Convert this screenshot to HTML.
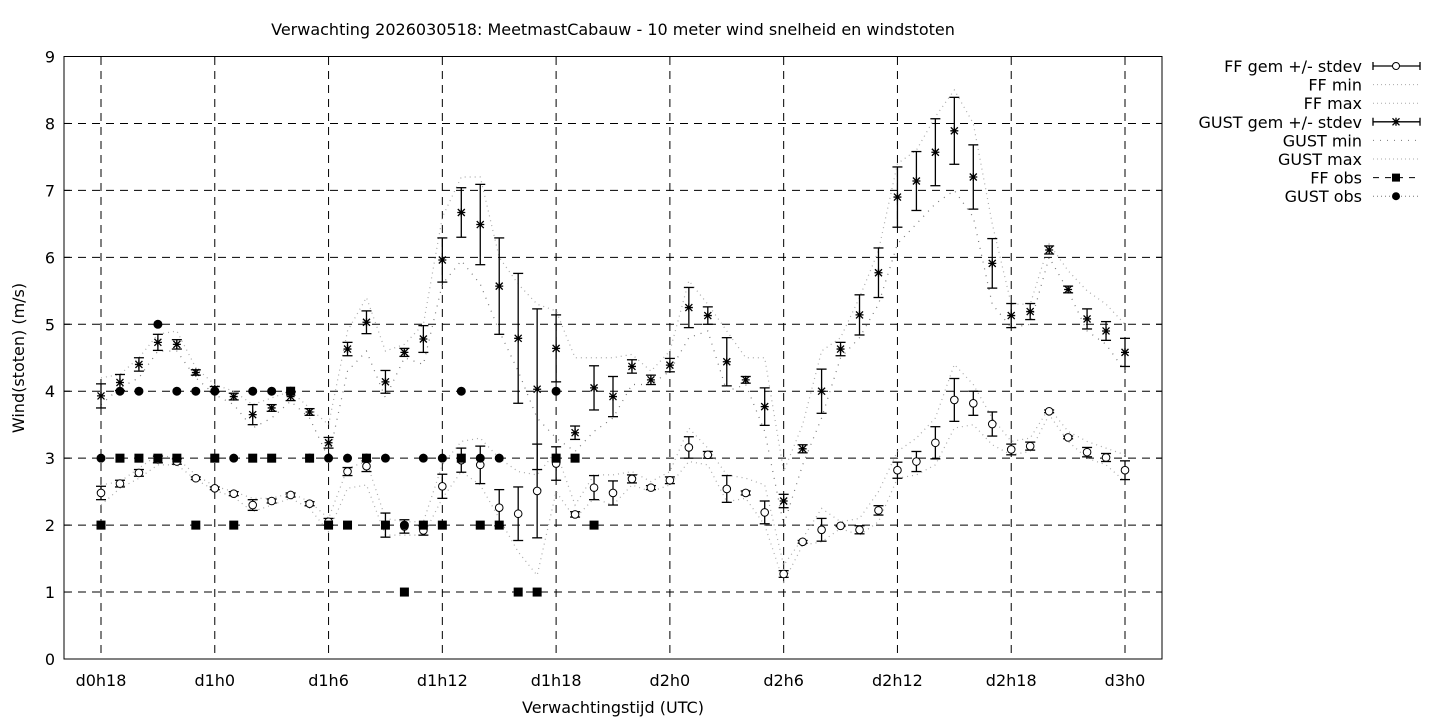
<!DOCTYPE html>
<html><head><meta charset="utf-8"><style>
html,body{margin:0;padding:0;background:#fff;}
svg{display:block;font-family:"DejaVu Sans","Liberation Sans",sans-serif;}
</style></head><body>
<svg id="chart" width="1440" height="720" viewBox="0 0 1440 720" xmlns="http://www.w3.org/2000/svg">
<text x="613" y="35" font-size="16" text-anchor="middle">Verwachting 2026030518: MeetmastCabauw - 10 meter wind snelheid en windstoten</text>
<text x="0" y="0" font-size="16" text-anchor="middle" transform="translate(24,358) rotate(-90)">Wind(stoten) (m/s)</text>
<text x="613" y="713" font-size="16" text-anchor="middle">Verwachtingstijd (UTC)</text>
<g id="grid"></g><g id="series"></g><g id="legend"></g>
<rect x="64" y="56.5" width="1098" height="602.5" fill="none" stroke="#000" stroke-width="1"/>
</svg>
<script>
const hours = [18,19,20,21,22,23,24,25,26,27,28,29,30,31,32,33,34,35,36,37,38,39,40,41,42,43,44,45,46,47,48,49,50,51,52,53,54,55,56,57,58,59,60,61,62,63,64,65,66,67,68,69,70,71,72];
const ffMean = [2.48,2.62,2.78,2.98,2.95,2.70,2.55,2.47,2.30,2.36,2.45,2.32,2.05,2.80,2.88,2.00,1.98,1.92,2.58,2.97,2.90,2.26,2.17,2.51,2.92,2.16,2.56,2.48,2.69,2.56,2.67,3.16,3.05,2.54,2.48,2.19,1.27,1.75,1.93,1.99,1.93,2.22,2.82,2.95,3.23,3.87,3.82,3.51,3.13,3.18,3.70,3.31,3.09,3.01,2.82];
const ffStd = [0.1,0.05,0.05,0.05,0.04,0.02,0.02,0.03,0.08,0.03,0.03,0.03,0.05,0.06,0.08,0.18,0.1,0.07,0.18,0.18,0.28,0.27,0.4,0.7,0.25,0.04,0.18,0.18,0.06,0.03,0.05,0.16,0.05,0.2,0.03,0.17,0.05,0.02,0.17,0.01,0.06,0.07,0.12,0.15,0.24,0.32,0.18,0.18,0.08,0.06,0.02,0.02,0.07,0.06,0.14];
const ffMax = [2.6,2.65,2.85,3.05,3.0,2.75,2.58,2.5,2.4,2.4,2.48,2.35,2.1,2.85,2.95,2.1,2.05,2.05,2.9,3.25,3.3,3.0,2.8,2.75,3.1,2.3,2.75,2.75,2.8,2.65,2.8,3.45,3.15,2.75,2.7,2.6,1.4,1.8,2.25,2.05,2.1,2.5,3.1,3.3,3.6,4.4,4.1,3.6,3.25,3.3,3.75,3.4,3.25,3.15,3.05];
const ffMin = [2.3,2.55,2.7,2.9,2.9,2.68,2.52,2.42,2.2,2.3,2.4,2.25,1.9,2.55,2.6,1.85,1.85,1.85,2.4,2.8,2.6,2.1,1.6,1.25,2.5,2.1,2.4,2.3,2.6,2.5,2.6,2.95,2.9,2.35,2.4,2.0,1.15,1.7,1.75,1.95,1.85,2.05,2.7,2.75,2.9,3.45,3.5,3.2,3.05,3.1,3.65,3.25,3.0,2.9,2.65];
const gMean = [3.93,4.13,4.40,4.73,4.70,4.28,4.03,3.92,3.65,3.75,3.92,3.69,3.23,4.63,5.03,4.14,4.58,4.78,5.96,6.67,6.49,5.57,4.79,4.03,4.64,3.38,4.05,3.92,4.37,4.17,4.39,5.25,5.13,4.44,4.17,3.77,2.36,3.14,4.0,4.63,5.14,5.77,6.90,7.14,7.57,7.89,7.20,5.91,5.13,5.19,6.11,5.52,5.08,4.90,4.58];
const gStd = [0.18,0.12,0.1,0.12,0.07,0.04,0.04,0.05,0.15,0.05,0.06,0.05,0.08,0.1,0.17,0.17,0.06,0.2,0.33,0.37,0.6,0.72,0.97,1.2,0.5,0.1,0.33,0.3,0.1,0.07,0.1,0.3,0.13,0.36,0.05,0.28,0.1,0.06,0.33,0.1,0.3,0.37,0.45,0.44,0.5,0.5,0.48,0.37,0.18,0.12,0.06,0.05,0.15,0.14,0.21];
const gMax = [4.2,4.25,4.5,4.85,4.9,4.35,4.1,4.0,3.8,3.9,4.0,3.75,3.5,4.9,5.4,4.6,4.7,5.0,6.6,7.2,7.2,6.0,5.6,5.3,5.2,4.5,4.5,4.5,4.55,4.3,4.6,5.65,5.3,4.9,4.5,4.5,2.8,3.5,4.6,4.8,5.4,6.1,7.4,7.6,8.1,8.5,8.0,6.5,5.3,5.3,6.2,5.8,5.5,5.3,5.0];
const gMin = [3.8,4.05,4.2,4.6,4.6,4.2,3.95,3.8,3.45,3.6,3.85,3.6,3.0,4.3,4.6,3.9,4.5,4.4,5.6,5.95,5.6,4.9,4.3,3.6,3.3,3.1,3.4,3.6,4.1,4.1,4.3,4.8,4.9,4.0,4.1,3.4,2.0,2.9,3.6,4.5,4.8,5.3,6.2,6.5,6.8,7.0,6.6,5.3,4.95,5.0,6.0,5.5,4.9,4.7,4.3];
const ffObsHours = [18,19,20,21,22,23,24,25,26,27,28,29,30,31,32,33,34,35,36,37,38,39,40,41,42,43,44];
const ffObs = [2,3,3,3,3,2,3,2,3,3,4,3,2,2,3,2,1,2,2,3,2,2,1,1,3,3,2];
const gObsHours = [18,19,20,21,22,23,24,25,26,27,28,29,30,31,32,33,34,35,36,37,38,39,42];
const gObs = [3,4,4,5,4,4,4,3,4,4,4,3,3,3,3,3,2,3,3,4,3,3,4];
const xTickHours = [18,24,30,36,42,48,54,60,66,72];
const xTickLabels = ["d0h18","d1h0","d1h6","d1h12","d1h18","d2h0","d2h6","d2h12","d2h18","d3h0"];
const yTicks = [0,1,2,3,4,5,6,7,8,9];

const NS="http://www.w3.org/2000/svg";
const X = h => 101 + (h-18)*(1024/54);
const Y = v => 659 - v*(602.5/9);
function mk(tag, attrs, parent){const e=document.createElementNS(NS,tag);for(const k in attrs)e.setAttribute(k,attrs[k]);parent.appendChild(e);return e;}
const grid=document.getElementById('grid'), ser=document.getElementById('series'), leg=document.getElementById('legend');

yTicks.forEach(v=>{
  const y=Y(v);
  if(v>0&&v<9){const l=mk('line',{x1:64,x2:1162,y1:y,y2:y,stroke:'#000','stroke-width':1,'stroke-dasharray':'8,6'},grid);
  
  }
  mk('line',{x1:64,x2:70,y1:y,y2:y,stroke:'#000'},grid);
  mk('line',{x1:1156,x2:1162,y1:y,y2:y,stroke:'#000'},grid);
  const t=mk('text',{x:55,y:y+6,'font-size':16,'text-anchor':'end'},grid);t.textContent=v;
  
  
});
xTickHours.forEach((h,i)=>{
  const x=X(h);
  const l=mk('line',{x1:x,x2:x,y1:57,y2:659,stroke:'#000','stroke-width':1,'stroke-dasharray':'8,6'},grid);
  
  
  const t=mk('text',{x:x,y:686,'font-size':16,'text-anchor':'middle'},grid);t.textContent=xTickLabels[i];
  
  
});

function dotted(vals,color,dash,name){
  const p=mk('polyline',{points:hours.map((h,i)=>X(h)+','+Y(vals[i])).join(' '),fill:'none',stroke:color,'stroke-width':1.2,'stroke-dasharray':dash},ser);
  
  
}
dotted(ffMin,'#aaa','1,4','ff-min-line');
dotted(ffMax,'#aaa','1,4','ff-max-line');
dotted(gMin,'#777','1,6','gust-min-line');
dotted(gMax,'#aaa','1,4','gust-max-line');

function errbars(mean,std,name){
  hours.forEach((h,i)=>{
    const x=X(h),y1=Y(mean[i]-std[i]),y2=Y(mean[i]+std[i]);
    const g=mk('g',{stroke:'#000','stroke-width':1.3},ser);
    
    
    mk('line',{x1:x,x2:x,y1:y1,y2:y2},g);
    mk('line',{x1:x-5,x2:x+5,y1:y1,y2:y1},g);
    mk('line',{x1:x-5,x2:x+5,y1:y2,y2:y2},g);
  });
}
errbars(ffMean,ffStd,'ff-errorbar');
errbars(gMean,gStd,'gust-errorbar');
function star(x,y,p){mk('path',{d:`M${x-4} ${y}H${x+4}M${x} ${y-4}V${y+4}M${x-3.5} ${y-3.5}L${x+3.5} ${y+3.5}M${x-3.5} ${y+3.5}L${x+3.5} ${y-3.5}`,stroke:'#000','stroke-width':1.3,fill:'none'},p);}
hours.forEach((h,i)=>{
  const c=mk('circle',{cx:X(h),cy:Y(ffMean[i]),r:3.8,fill:'#fff',stroke:'#000','stroke-width':1},ser);
  
  
  const g=mk('g',{},ser);
  
  
  star(X(h),Y(gMean[i]),g);
});
ffObsHours.forEach((h,i)=>{
  const r=mk('rect',{x:X(h)-4.5,y:Y(ffObs[i])-4.5,width:9,height:9,fill:'#000'},ser);
  
  
});
gObsHours.forEach((h,i)=>{
  const c=mk('circle',{cx:X(h),cy:Y(gObs[i]),r:4.5,fill:'#000'},ser);
  
  
});

const legendLabels=["FF gem +/- stdev","FF min","FF max","GUST gem +/- stdev","GUST min","GUST max","FF obs","GUST obs"];
legendLabels.forEach((lab,i)=>{
  const y=66+i*18.6;
  const g=mk('g',{},leg);
  
  
  const t=mk('text',{x:1362,y:y+6,'font-size':16,'text-anchor':'end'},g);t.textContent=lab;
  if(i===0||i===3){
    mk('path',{d:`M1373 ${y}H1420M1373 ${y-4}V${y+4}M1420 ${y-4}V${y+4}`,stroke:'#000','stroke-width':1.3},g);
    if(i===0)mk('circle',{cx:1396,cy:y,r:3.5,fill:'#fff',stroke:'#000'},g);else star(1396,y,g);
  } else if(i===6){
    mk('line',{x1:1373,x2:1420,y1:y,y2:y,stroke:'#000','stroke-dasharray':'6,6'},g);
    mk('rect',{x:1392,y:y-4,width:8,height:8,fill:'#000'},g);
  } else if(i===7){
    mk('line',{x1:1373,x2:1420,y1:y,y2:y,stroke:'#777','stroke-dasharray':'1,3'},g);
    mk('circle',{cx:1396,cy:y,r:4,fill:'#000'},g);
  } else {
    mk('line',{x1:1373,x2:1420,y1:y,y2:y,stroke:i===4?'#777':'#aaa','stroke-dasharray':i===4?'1,6':'1,3'},g);
  }
});
</script>
</body></html>
